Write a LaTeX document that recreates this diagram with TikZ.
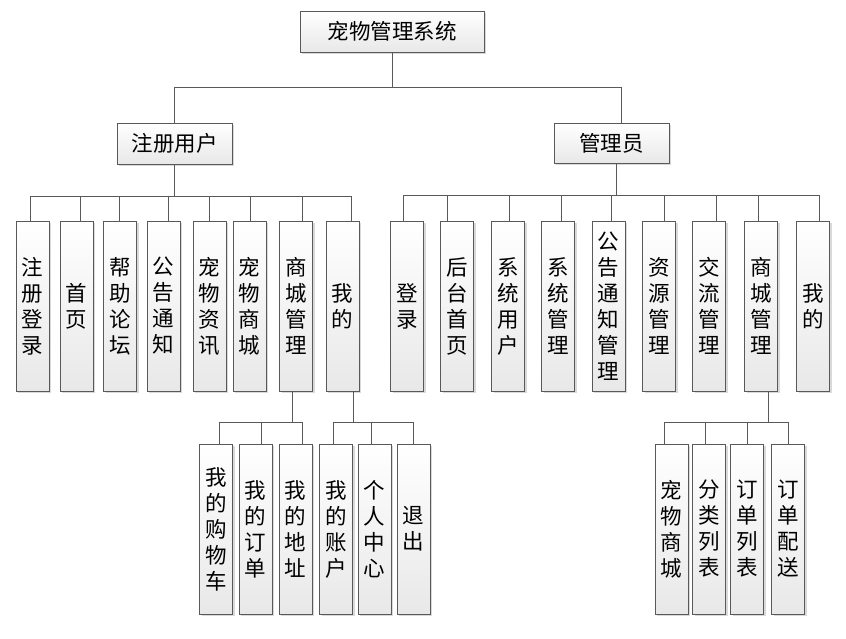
\documentclass[tikz,border=0pt]{standalone}
\usepackage{fontspec}
\newfontfamily\cjk{Noto Sans CJK SC}
\usetikzlibrary{shadows}
\tikzset{
  box/.style={draw=black!65, line width=0.85pt, top color=white, bottom color=black!9,
    drop shadow={shadow xshift=2pt, shadow yshift=-2pt, fill=black, opacity=0.15},
    inner sep=0pt, font=\cjk\fontsize{21.5}{26}\selectfont},
  hbox/.style={box, minimum width=115pt, minimum height=41pt},
  vbox/.style={box, minimum width=33pt, minimum height=170pt, align=center},
  link/.style={draw=black!65, line width=0.85pt}
}
\begin{document}
\begin{tikzpicture}[x=1pt, y=-1pt]
  \useasboundingbox [fill=white] (0, 0) rectangle (846, 638);
  % top levels
  \node [hbox, minimum width=184pt] (root) at (392, 31.5) {宠物管理系统};
  \node [hbox] (user) at (174.5, 143.5) {注册用户};
  \node [hbox, minimum height=40pt] (adm) at (611.5, 143) {管理员};
  % registered user
  \node [vbox] (u1) at (32.5, 306) {注\\册\\登\\录};
  \node [vbox] (u2) at (76.5, 306) {首\\页};
  \node [vbox] (u3) at (120, 306) {帮\\助\\论\\坛};
  \node [vbox] (u4) at (163.5, 306) {公\\告\\通\\知};
  \node [vbox] (u5) at (209.5, 306) {宠\\物\\资\\讯};
  \node [vbox] (u6) at (249.5, 306) {宠\\物\\商\\城};
  \node [vbox] (u7) at (296, 306) {商\\城\\管\\理};
  \node [vbox] (u8) at (342.5, 306) {我\\的};
  % administrator
  \node [vbox] (a1) at (407, 306) {登\\录};
  \node [vbox] (a2) at (457, 306) {后\\台\\首\\页};
  \node [vbox] (a3) at (508, 306) {系\\统\\用\\户};
  \node [vbox] (a4) at (558, 306) {系\\统\\管\\理};
  \node [vbox] (a5) at (608.5, 306) {公\\告\\通\\知\\管\\理};
  \node [vbox] (a6) at (659, 306) {资\\源\\管\\理};
  \node [vbox] (a7) at (709, 306) {交\\流\\管\\理};
  \node [vbox] (a8) at (761, 306) {商\\城\\管\\理};
  \node [vbox] (a9) at (813, 306) {我\\的};
  % third level
  \node [vbox] (s1) at (216, 529) {我\\的\\购\\物\\车};
  \node [vbox] (s2) at (255.5, 529) {我\\的\\订\\单};
  \node [vbox] (s3) at (295.5, 529) {我\\的\\地\\址};
  \node [vbox] (m1) at (336, 529) {我\\的\\账\\户};
  \node [vbox] (m2) at (374.5, 529) {个\\人\\中\\心};
  \node [vbox] (m3) at (413.5, 529) {退\\出};
  \node [vbox] (g1) at (671.5, 529) {宠\\物\\商\\城};
  \node [vbox] (g2) at (709, 529) {分\\类\\列\\表};
  \node [vbox] (g3) at (747, 529) {订\\单\\列\\表};
  \node [vbox] (g4) at (788, 529) {订\\单\\配\\送};
  % connectors
  \foreach \c/\dc in {user/0, adm/9.5}
    \draw [link] (root.south) -- ++(0, 35) -| ([xshift=\dc pt]\c.north);
  \foreach \c/\dc in {u1/-2.5, u2/3.5, u3/-1, u4/4.5, u5/-0.5, u6/0.5, u7/6, u8/8.5}
    \draw [link] (user.south) -- ++(0, 32) -| ([xshift=\dc pt]\c.north);
  \foreach \c/\dc in {a1/-4, a2/-10, a3/1, a4/3, a5/2.5, a6/5, a7/7, a8/-3, a9/6}
    \draw [link] ([xshift=4.5pt]adm.south) -- ++(0, 32) -| ([xshift=\dc pt]\c.north);
  \foreach \c/\dc in {s1/3, s2/5.5, s3/6.5}
    \draw [link] ([xshift=-4pt]u7.south) -- ++(0, 31) -| ([xshift=\dc pt]\c.north);
  \foreach \c/\dc in {m1/-3, m2/-3.5, m3/-0.5}
    \draw [link] ([xshift=10.5pt]u8.south) -- ++(0, 31) -| ([xshift=\dc pt]\c.north);
  \foreach \c/\dc in {g1/-7.5, g2/-4, g3/0, g4/0}
    \draw [link] ([xshift=7pt]a8.south) -- ++(0, 31) -| ([xshift=\dc pt]\c.north);
\end{tikzpicture}
\end{document}
